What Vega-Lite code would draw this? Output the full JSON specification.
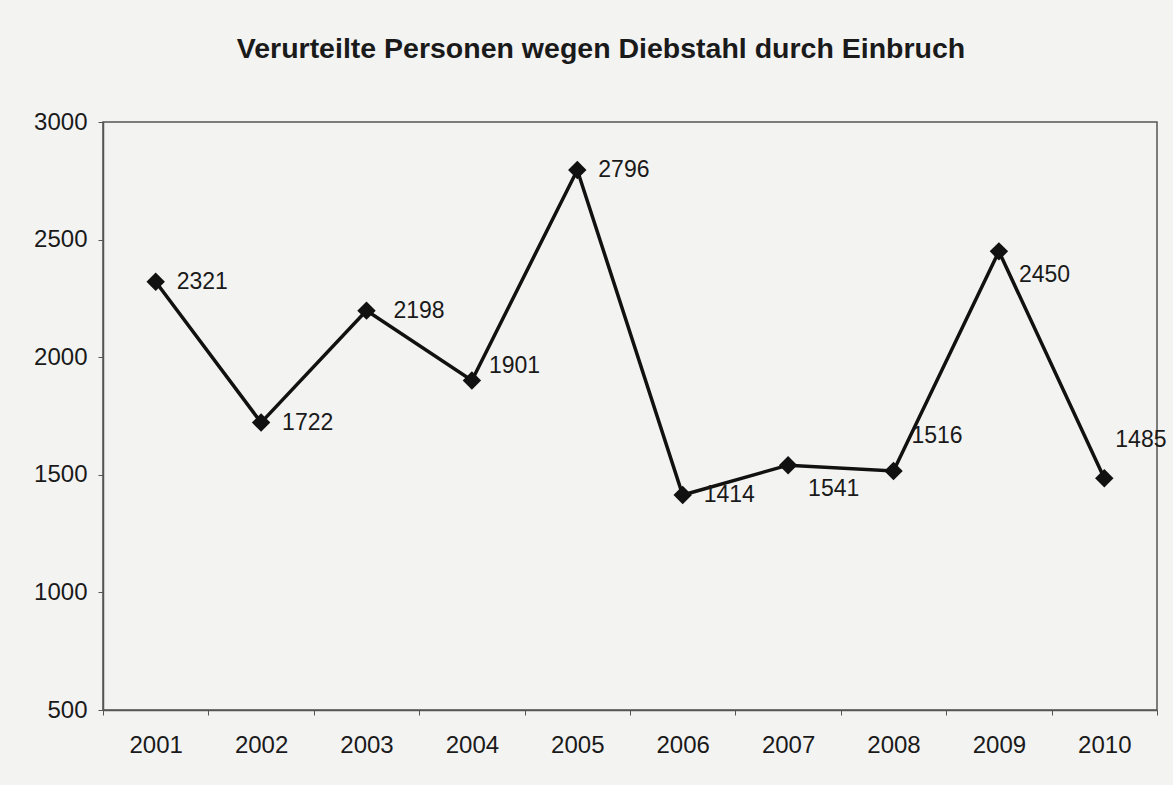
{
  "$schema": "https://vega.github.io/schema/vega-lite/v6.json",
  "autosize": {"type": "none"},
  "padding": {"left": 103, "top": 122, "right": 16, "bottom": 75},
  "width": 1054,
  "height": 588,
  "background": "#f3f3f2",
  "title": {
    "text": "Verurteilte Personen wegen Diebstahl durch Einbruch",
    "font": "Liberation Sans",
    "fontSize": 28.5,
    "fontWeight": "bold",
    "color": "#1a1a1a",
    "anchor": "middle",
    "offset": 47,
    "dx": -29
  },
  "config": {
    "view": {"stroke": "#555555", "strokeWidth": 1.5, "fill": "#f3f3f2"},
    "font": "Liberation Sans"
  },
  "data": {
    "values": [
      {"Jahr": "2001", "Personen": 2321},
      {"Jahr": "2002", "Personen": 1722},
      {"Jahr": "2003", "Personen": 2198},
      {"Jahr": "2004", "Personen": 1901},
      {"Jahr": "2005", "Personen": 2796},
      {"Jahr": "2006", "Personen": 1414},
      {"Jahr": "2007", "Personen": 1541},
      {"Jahr": "2008", "Personen": 1516},
      {"Jahr": "2009", "Personen": 2450},
      {"Jahr": "2010", "Personen": 1485}
    ]
  },
  "encoding": {
    "x": {
      "field": "Jahr",
      "type": "ordinal",
      "scale": {"type": "band", "paddingInner": 0, "paddingOuter": 0},
      "axis": {
        "title": null,
        "labelAngle": 0,
        "labelFont": "Liberation Sans",
        "labelFontSize": 24,
        "labelColor": "#1a1a1a",
        "labelPadding": 18,
        "tickBand": "extent",
        "tickSize": 5,
        "tickColor": "#555555",
        "domainColor": "#555555",
        "domainWidth": 1.5,
        "grid": false
      }
    },
    "y": {
      "field": "Personen",
      "type": "quantitative",
      "scale": {"domain": [500, 3000], "nice": false, "zero": false},
      "axis": {
        "title": null,
        "values": [500, 1000, 1500, 2000, 2500, 3000],
        "format": "d",
        "labelFont": "Liberation Sans",
        "labelFontSize": 24,
        "labelColor": "#1a1a1a",
        "labelPadding": 11,
        "tickSize": 5,
        "tickColor": "#555555",
        "domainColor": "#555555",
        "domainWidth": 1.5,
        "grid": false
      }
    }
  },
  "layer": [
    {"mark": {"type": "line", "color": "#111111", "strokeWidth": 3.5}},
    {"mark": {"type": "point", "shape": "diamond", "filled": true, "color": "#111111", "size": 340, "opacity": 1}},
    {
      "transform": [{"filter": {"field": "Jahr", "oneOf": ["2001", "2002", "2005", "2006"]}}],
      "mark": {"type": "text", "align": "left", "baseline": "middle", "dx": 21, "dy": 0, "fontSize": 23, "color": "#1a1a1a"},
      "encoding": {"text": {"field": "Personen", "type": "quantitative", "format": "d"}}
    },
    {
      "transform": [{"filter": {"field": "Jahr", "oneOf": ["2003"]}}],
      "mark": {"type": "text", "align": "left", "baseline": "middle", "dx": 27, "dy": 0, "fontSize": 23, "color": "#1a1a1a"},
      "encoding": {"text": {"field": "Personen", "type": "quantitative", "format": "d"}}
    },
    {
      "transform": [{"filter": {"field": "Jahr", "oneOf": ["2007", "2009"]}}],
      "mark": {"type": "text", "align": "left", "baseline": "middle", "dx": 20, "dy": 24, "fontSize": 23, "color": "#1a1a1a"},
      "encoding": {"text": {"field": "Personen", "type": "quantitative", "format": "d"}}
    },
    {
      "transform": [{"filter": {"field": "Jahr", "oneOf": ["2004"]}}],
      "mark": {"type": "text", "align": "left", "baseline": "middle", "dx": 17, "dy": -14, "fontSize": 23, "color": "#1a1a1a"},
      "encoding": {"text": {"field": "Personen", "type": "quantitative", "format": "d"}}
    },
    {
      "transform": [{"filter": {"field": "Jahr", "oneOf": ["2008"]}}],
      "mark": {"type": "text", "align": "left", "baseline": "middle", "dx": 18, "dy": -35, "fontSize": 23, "color": "#1a1a1a"},
      "encoding": {"text": {"field": "Personen", "type": "quantitative", "format": "d"}}
    },
    {
      "transform": [{"filter": {"field": "Jahr", "oneOf": ["2010"]}}],
      "mark": {"type": "text", "align": "left", "baseline": "middle", "dx": 11, "dy": -38, "fontSize": 23, "color": "#1a1a1a"},
      "encoding": {"text": {"field": "Personen", "type": "quantitative", "format": "d"}}
    }
  ]
}
